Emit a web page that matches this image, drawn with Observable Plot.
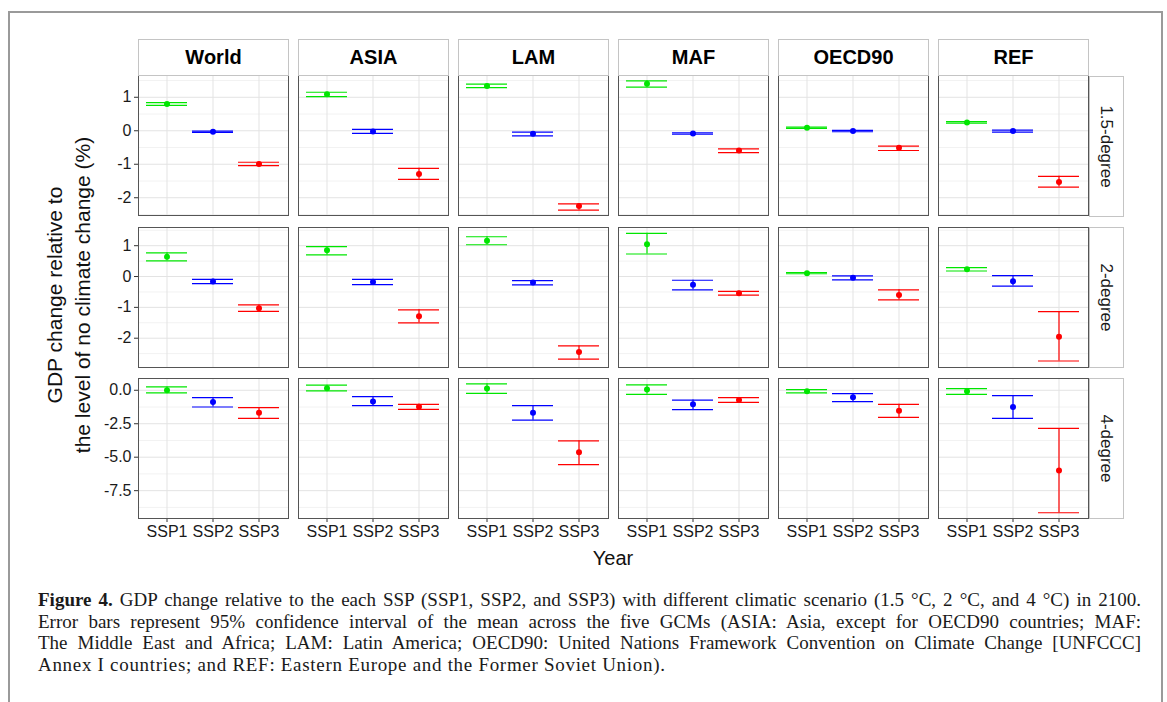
<!DOCTYPE html>
<html><head><meta charset="utf-8">
<script src="https://cdn.jsdelivr.net/npm/d3@7"></script>
<script src="https://cdn.jsdelivr.net/npm/@observablehq/plot@0.6"></script>
<style>
body{margin:0;background:#fff;}
#fig{position:relative;width:1167px;height:702px;overflow:hidden;background:#fff;font-family:'Liberation Sans',Arial,sans-serif;}
#frame{position:absolute;left:8px;top:11px;width:1155px;height:720px;border:2px solid #9a9a9a;box-sizing:border-box;}
#ytitle{position:absolute;left:-159px;top:265px;width:460px;height:60px;transform:rotate(-90deg);text-align:center;font-size:21px;line-height:28px;color:#111;}
#xtitle{position:absolute;left:513px;top:546px;width:200px;text-align:center;font-size:20px;line-height:24px;color:#111;}
#caption{position:absolute;left:38px;top:589px;width:1103px;font-family:'Liberation Serif','Times New Roman',serif;font-size:19px;line-height:21.5px;color:#1a1a1a;}
#caption .j{text-align:justify;text-align-last:justify;white-space:nowrap;}
#caption .last{letter-spacing:0.7px;white-space:nowrap;}
</style></head><body>
<div id="fig">
<div id="frame"></div>
<div id="ytitle">GDP change relative to<br>the level of no climate change (%)</div>
<div id="xtitle">Year</div>
<div id="caption">
<div class="j"><b>Figure 4.</b> GDP change relative to the each SSP (SSP1, SSP2, and SSP3) with different climatic scenario (1.5 °C, 2 °C, and 4 °C) in 2100.</div>
<div class="j">Error bars represent 95% confidence interval of the mean across the five GCMs (ASIA: Asia, except for OECD90 countries; MAF:</div>
<div class="j">The Middle East and Africa; LAM: Latin America; OECD90: United Nations Framework Convention on Climate Change [UNFCCC]</div>
<div class="last">Annex I countries; and REF: Eastern Europe and the Former Soviet Union).</div>
</div>
</div>
<script>
// ---- data ----
const regions = ["World", "ASIA", "LAM", "MAF", "OECD90", "REF"];
const scenarios = ["SSP1", "SSP2", "SSP3"];
const degrees = ["1.5-degree", "2-degree", "4-degree"];
const colors = ["#00e600", "#0000ff", "#ff0000"];

// order: World(SSP1,SSP2,SSP3), ASIA, LAM, MAF, OECD90, REF
const mean15 = [0.80,-0.03,-0.99, 1.09,-0.02,-1.29, 1.34,-0.09,-2.25, 1.40,-0.08,-0.59, 0.09,-0.01,-0.51, 0.25,-0.01,-1.53];
const lo15   = [0.76,-0.05,-1.04, 1.02,-0.08,-1.45, 1.29,-0.15,-2.37, 1.30,-0.10,-0.65, 0.07,-0.03,-0.59, 0.23,-0.04,-1.68];
const hi15   = [0.84,-0.01,-0.94, 1.15, 0.04,-1.12, 1.39,-0.04,-2.18, 1.49,-0.06,-0.54, 0.11, 0.01,-0.46, 0.27, 0.02,-1.36];

const mean2 = [0.64,-0.16,-1.03, 0.85,-0.18,-1.29, 1.16,-0.19,-2.45, 1.05,-0.27,-0.54, 0.11,-0.04,-0.60, 0.24,-0.15,-1.95];
const lo2   = [0.51,-0.23,-1.13, 0.70,-0.26,-1.50, 1.03,-0.27,-2.68, 0.73,-0.43,-0.60, 0.09,-0.11,-0.76, 0.18,-0.31,-2.74];
const hi2   = [0.77,-0.09,-0.92, 0.97,-0.09,-1.08, 1.29,-0.13,-2.25, 1.40,-0.12,-0.48, 0.13, 0.02,-0.43, 0.29, 0.03,-1.14];

const mean4 = [0.00,-0.88,-1.68, 0.15,-0.83,-1.23, 0.13,-1.68,-4.63, 0.05,-1.05,-0.73, -0.08,-0.53,-1.53, -0.08,-1.25,-6.00];
const lo4   = [-0.20,-1.25,-2.10, -0.05,-1.15,-1.43, -0.23,-2.23,-5.55, -0.30,-1.45,-0.90, -0.20,-0.85,-2.03, -0.30,-2.10,-9.15];
const hi4   = [0.25,-0.55,-1.30, 0.38,-0.48,-1.05, 0.48,-1.15,-3.78, 0.40,-0.73,-0.55, 0.05,-0.25,-1.05, 0.13,-0.40,-2.85];

const yTicks15 = [1, 0, -1, -2];
const yMinor15 = [1.5, 0.5, -0.5, -1.5, -2.5];
const yTicks2 = [1, 0, -1, -2];
const yMinor2 = [1.5, 0.5, -0.5, -1.5, -2.5];
const yTicks4 = [0, -2.5, -5, -7.5];
const yMinor4 = [-1.25, -3.75, -6.25, -8.75];

const yDomain15 = [-2.53, 1.65];
const yDomain2 = [-2.95, 1.59];
const yDomain4 = [-9.58, 0.88];

// ---- layout ----
const W = 1167, ML = 137, MR = 78;
const PADX = 52 / 802;       // gap between facet columns
const PADY = 23 / 303;       // gap between facet rows
const rowTops = [75, 226.5, 378];
const font = "'Liberation Sans', Arial, sans-serif";
const fig = document.getElementById("fig");

function table(m, lo, hi) {
  return regions.flatMap((r, i) => scenarios.map((s, j) => ({
    region: r, ssp: s, mean: m[i * 3 + j], lo: lo[i * 3 + j], hi: hi[i * 3 + j]
  })));
}

function place(el, left, top) {
  el.style.position = "absolute";
  el.style.left = left + "px";
  el.style.top = top + "px";
  fig.appendChild(el);
}

function rowPlot(data, domain, ticks, minor, fmt, bottom) {
  const mt = 1, mb = bottom ? 34 : 1;
  return {mt, svg: Plot.plot({
    width: W, height: 140 + mt + mb,
    marginLeft: ML, marginRight: MR, marginTop: mt, marginBottom: mb,
    style: {fontFamily: font, background: "transparent", color: "#1a1a1a", overflow: "visible"},
    fx: {domain: regions, paddingInner: PADX, paddingOuter: 0, axis: null, label: null},
    x: {type: "band", domain: scenarios, paddingInner: 0.1, paddingOuter: 0.15, axis: null, label: null},
    y: {domain, label: null, axis: null},
    color: {domain: scenarios, range: colors},
    marks: [
      Plot.gridY(minor, {stroke: "#f2f2f2", strokeOpacity: 1, strokeWidth: 1}),
      Plot.gridY(ticks, {stroke: "#e3e3e3", strokeOpacity: 1, strokeWidth: 1}),
      Plot.gridX({stroke: "#e3e3e3", strokeOpacity: 1, strokeWidth: 1}),
      Plot.axisY(ticks, {tickFormat: fmt, tickSize: 4, tickPadding: 3, fontSize: 16, stroke: "#333", label: null}),
      bottom ? Plot.axisX({tickSize: 4, tickPadding: 3, fontSize: 16, stroke: "#333", label: null}) : null,
      Plot.ruleX(data, {fx: "region", x: "ssp", y1: "lo", y2: "hi", stroke: "ssp", strokeWidth: 1.2}),
      Plot.tickY(data, {fx: "region", x: "ssp", y: "lo", stroke: "ssp", strokeWidth: 1.2}),
      Plot.tickY(data, {fx: "region", x: "ssp", y: "hi", stroke: "ssp", strokeWidth: 1.2}),
      Plot.dot(data, {fx: "region", x: "ssp", y: "mean", fill: "ssp", r: 3}),
      Plot.frame({stroke: "#555", strokeWidth: 1})
    ]
  })};
}

const fmtInt = d => String(d);
const fmt1 = d => d.toFixed(1);

const rows = [
  rowPlot(table(mean15, lo15, hi15), yDomain15, yTicks15, yMinor15, fmtInt, false),
  rowPlot(table(mean2, lo2, hi2), yDomain2, yTicks2, yMinor2, fmtInt, false),
  rowPlot(table(mean4, lo4, hi4), yDomain4, yTicks4, yMinor4, fmt1, true)
];
rows.forEach((r, i) => place(r.svg, 0, rowTops[i] - r.mt));

// top strips (facet labels)
const stripTop = Plot.plot({
  width: W, height: 38, marginLeft: ML, marginRight: MR, marginTop: 1, marginBottom: 1,
  style: {fontFamily: font, background: "transparent", overflow: "visible"},
  fx: {domain: regions, paddingInner: PADX, paddingOuter: 0, axis: null, label: null},
  marks: [
    Plot.frame({fill: "white", stroke: "#c4c4c4"}),
    Plot.text(regions, {fx: d => d, text: d => d, frameAnchor: "middle", fontSize: 20, fontWeight: "bold", fill: "#000"})
  ]
});
place(stripTop, 0, 38);

// right strips (row labels)
const stripRight = Plot.plot({
  width: 36, height: 445, marginLeft: 1, marginRight: 1, marginTop: 1, marginBottom: 1,
  style: {fontFamily: font, background: "transparent", overflow: "visible"},
  fy: {domain: degrees, paddingInner: PADY, paddingOuter: 0, axis: null, label: null},
  marks: [
    Plot.frame({fill: "white", stroke: "#c4c4c4"}),
    Plot.text(degrees, {fy: d => d, text: d => d, frameAnchor: "middle", rotate: 90, fontSize: 17, fill: "#1a1a1a"})
  ]
});
place(stripRight, 1088, 74);
</script>
</body></html>
